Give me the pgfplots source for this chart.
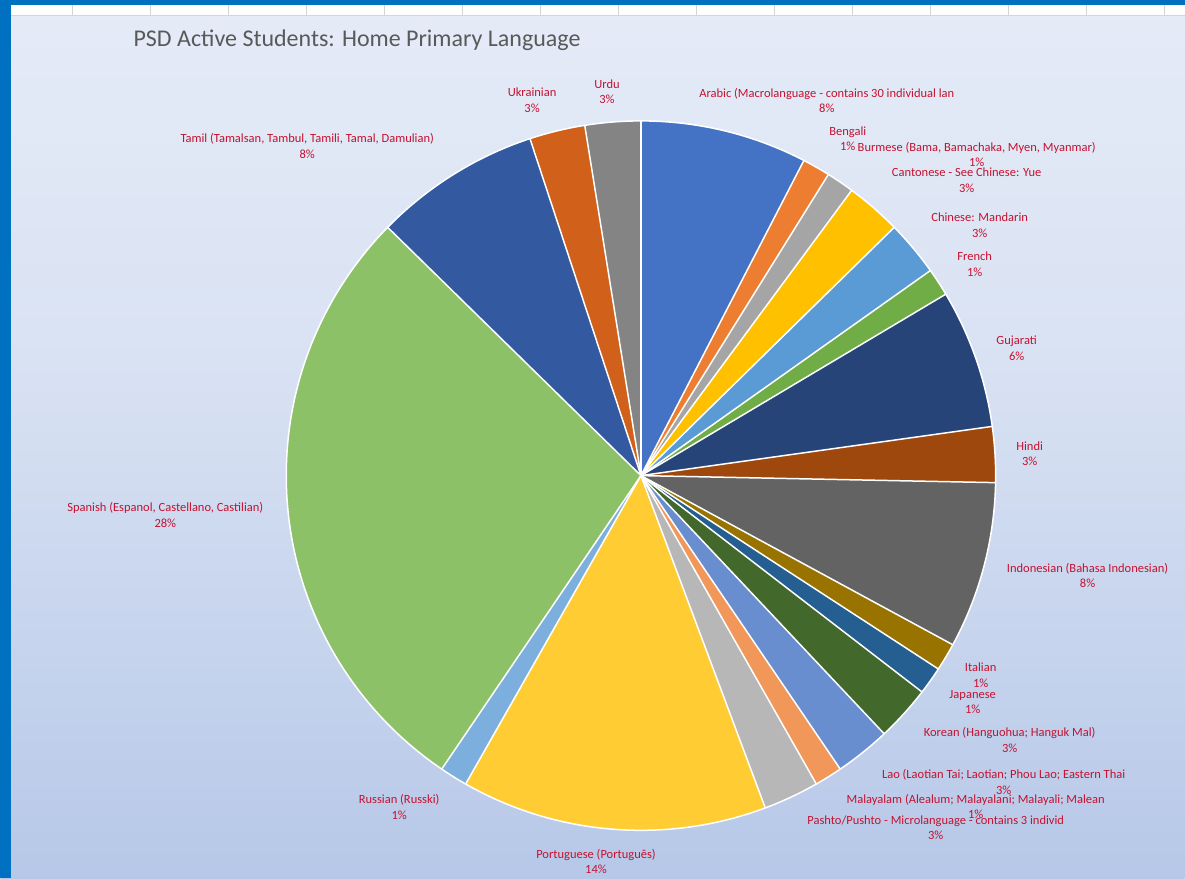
\documentclass[border=0pt]{standalone}
\usepackage{pgfplots}
\pgfplotsset{compat=1.18}
\usepackage{pgfplotstable}
\usepackage{fontspec}
\setmainfont{Carlito}

\definecolor{cArabic}{HTML}{4472C4}
\definecolor{cBengali}{HTML}{ED7D31}
\definecolor{cBurmese}{HTML}{A5A5A5}
\definecolor{cCantonese}{HTML}{FFC000}
\definecolor{cMandarin}{HTML}{5B9BD5}
\definecolor{cFrench}{HTML}{70AD47}
\definecolor{cGujarati}{HTML}{264478}
\definecolor{cHindi}{HTML}{9E480E}
\definecolor{cIndonesian}{HTML}{636363}
\definecolor{cItalian}{HTML}{997300}
\definecolor{cJapanese}{HTML}{255E91}
\definecolor{cKorean}{HTML}{43682B}
\definecolor{cLao}{HTML}{698ED0}
\definecolor{cMalayalam}{HTML}{F1975A}
\definecolor{cPashto}{HTML}{B7B7B7}
\definecolor{cPortuguese}{HTML}{FFCD33}
\definecolor{cRussian}{HTML}{7CAFDD}
\definecolor{cSpanish}{HTML}{8CC168}
\definecolor{cTamil}{HTML}{335AA1}
\definecolor{cUkrainian}{HTML}{D0601A}
\definecolor{cUrdu}{HTML}{848484}

\definecolor{lbl}{RGB}{196,18,48}
\definecolor{ttl}{HTML}{595959}
\definecolor{frameblue}{HTML}{0070C0}
\definecolor{bgA}{HTML}{F3F6FC}
\definecolor{bgB}{HTML}{D9E2F3}
\definecolor{bgC}{HTML}{ADC1E5}
\definecolor{bgD}{HTML}{BCCDEA}
\definecolor{gridgrey}{HTML}{D4D4D4}

\pgfdeclareverticalshading{chartbg}{100bp}{color(0bp)=(bgD); color(17bp)=(bgC); color(55bp)=(bgB); color(100bp)=(bgA)}

% Home primary language: number of active students
\pgfplotstableread{
lang n col
Arabic 6 cArabic
Bengali 1 cBengali
Burmese 1 cBurmese
Cantonese 2 cCantonese
Mandarin 2 cMandarin
French 1 cFrench
Gujarati 5 cGujarati
Hindi 2 cHindi
Indonesian 6 cIndonesian
Italian 1 cItalian
Japanese 1 cJapanese
Korean 2 cKorean
Lao 2 cLao
Malayalam 1 cMalayalam
Pashto 2 cPashto
Portuguese 11 cPortuguese
Russian 1 cRussian
Spanish 22 cSpanish
Tamil 6 cTamil
Ukrainian 2 cUkrainian
Urdu 2 cUrdu
}\piedata

\begin{document}
\begin{tikzpicture}[lab/.style={font=\fontsize{12.5}{15.5}\selectfont, text=lbl, align=center, inner sep=0pt}]
\begin{axis}[
  scale only axis, width=1185pt, height=879pt,
  xmin=0, xmax=1185, ymin=0, ymax=879, y dir=reverse,
  hide axis, clip=false,
]
% background
\shade[shading=chartbg] (axis cs:0,16) rectangle (axis cs:1185,879);
\fill[white] (axis cs:0,5) rectangle (axis cs:1185,15.5);
\draw[gridgrey, line width=1pt] (axis cs:0,15.5) -- (axis cs:1185,15.5);
\pgfplotsforeachungrouped \k in {0,...,14}{%
  \pgfmathsetmacro\gx{72+78.1*\k}%
  \edef\cmd{\noexpand\draw[gridgrey, line width=1pt] (axis cs:\gx,5) -- (axis cs:\gx,15.5);}\cmd
}
\fill[frameblue] (axis cs:0,0) rectangle (axis cs:1185,5);
\fill[frameblue] (axis cs:0,0) rectangle (axis cs:11,879);

% pie
\pgfplotstablegetrowsof{\piedata}
\pgfmathtruncatemacro\nrows{\pgfplotsretval-1}
\def\total{0}
\pgfplotsforeachungrouped \i in {0,...,\nrows}{%
  \pgfplotstablegetelem{\i}{n}\of\piedata
  \pgfmathsetmacro\total{\total+\pgfplotsretval}%
}
\def\cum{0}
\pgfplotsforeachungrouped \i in {0,...,\nrows}{%
  \pgfplotstablegetelem{\i}{n}\of\piedata \let\slicen\pgfplotsretval
  \pgfplotstablegetelem{\i}{col}\of\piedata \let\slicecol\pgfplotsretval
  \pgfmathsetmacro\angA{90-\cum/\total*360}%
  \pgfmathsetmacro\cumnew{\cum+\slicen}%
  \pgfmathsetmacro\angB{90-\cumnew/\total*360}%
  \edef\cmd{\noexpand\fill[fill=\slicecol] (axis cs:641,476) -- ++(\angA:355pt) arc[start angle=\angA, end angle=\angB, radius=355pt] -- cycle;}\cmd
  \let\cum\cumnew
}
\def\cum{0}
\pgfplotsforeachungrouped \i in {0,...,\nrows}{%
  \pgfplotstablegetelem{\i}{n}\of\piedata \let\slicen\pgfplotsretval
  \pgfmathsetmacro\angA{90-\cum/\total*360}%
  \pgfmathsetmacro\cumnew{\cum+\slicen}%
  \edef\cmd{\noexpand\draw[white, line width=1.5pt] (axis cs:641,476) -- ++(\angA:355pt);}\cmd
  \let\cum\cumnew
}
\draw[white, line width=1.5pt] (axis cs:641,476) circle[radius=355pt];

% title
\node[anchor=base west, font=\fontsize{24}{28}\selectfont, text=ttl, inner sep=0pt] at (axis cs:133,47) {PSD Active Students: Home Primary Language};

% data labels
\node[lab] at (axis cs:607,92) {Urdu\\3\%};
\node[lab] at (axis cs:532,100.5) {Ukrainian\\3\%};
\node[lab] at (axis cs:307,146) {Tamil (Tamalsan, Tambul, Tamili, Tamal, Damulian)\\8\%};
\node[lab] at (axis cs:827,100.5) {Arabic (Macrolanguage - contains 30 individual lan\\8\%};
\node[lab] at (axis cs:848,139) {Bengali\\1\%};
\node[lab] at (axis cs:977,154.5) {Burmese (Bama, Bamachaka, Myen, Myanmar)\\1\%};
\node[lab] at (axis cs:967,180.5) {Cantonese - See Chinese: Yue\\3\%};
\node[lab] at (axis cs:980,225.5) {Chinese: Mandarin\\3\%};
\node[lab] at (axis cs:975,264.5) {French\\1\%};
\node[lab] at (axis cs:1017,348.5) {Gujarati\\6\%};
\node[lab] at (axis cs:1030,454) {Hindi\\3\%};
\node[lab] at (axis cs:1088,576) {Indonesian (Bahasa Indonesian)\\8\%};
\node[lab] at (axis cs:981,676) {Italian\\1\%};
\node[lab] at (axis cs:973,702.5) {Japanese\\1\%};
\node[lab] at (axis cs:1010,740.5) {Korean (Hanguohua; Hanguk Mal)\\3\%};
\node[lab] at (axis cs:1004,782.5) {Lao (Laotian Tai; Laotian; Phou Lao; Eastern Thai\\3\%};
\node[lab] at (axis cs:976,807) {Malayalam (Alealum; Malayalani; Malayali; Malean\\1\%};
\node[lab] at (axis cs:936,828.5) {Pashto/Pushto - Microlanguage - contains 3 individ\\3\%};
\node[lab] at (axis cs:596,862) {Portuguese (Português)\\14\%};
\node[lab] at (axis cs:399,807.5) {Russian (Russki)\\1\%};
\node[lab] at (axis cs:165,515.5) {Spanish (Espanol, Castellano, Castilian)\\28\%};
\end{axis}
\end{tikzpicture}
\end{document}
